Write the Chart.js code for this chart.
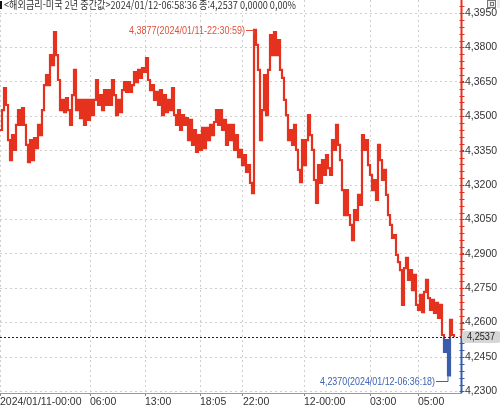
<!DOCTYPE html>
<html lang="ko">
<head>
<meta charset="UTF-8">
<title>해외금리-미국 2년 중간값</title>
<script src="https://cdn.jsdelivr.net/npm/chart.js"></script>
<style>
    html, body { margin: 0; padding: 0; background: #fff; }
    #wrap { width: 500px; height: 409px; }
</style>
</head>
<body>
<div id="wrap"><canvas id="chart" width="500" height="409"></canvas></div>
<script>
    // 체결가 (화면에서 읽은 근사값, 일정 간격)
    const prices = [
        4.3440, 4.3527, 4.3623, 4.3549, 4.3396, 4.3309, 4.3418, 4.3353, 4.3462, 4.3527,
        4.3462, 4.3536, 4.3462, 4.3375, 4.3300, 4.3396, 4.3309, 4.3405, 4.3361, 4.3462,
        4.3418, 4.3527, 4.3636, 4.3680, 4.3636, 4.3767, 4.3723, 4.3867, 4.3767, 4.3658,
        4.3527, 4.3571, 4.3518, 4.3579, 4.3527, 4.3462, 4.3592, 4.3702, 4.3527, 4.3571,
        4.3492, 4.3571, 4.3462, 4.3571, 4.3484, 4.3571, 4.3505, 4.3571, 4.3658, 4.3549,
        4.3592, 4.3527, 4.3614, 4.3549, 4.3614, 4.3549, 4.3658, 4.3592, 4.3505, 4.3571,
        4.3518, 4.3614, 4.3649, 4.3606, 4.3649, 4.3606, 4.3636, 4.3693, 4.3649, 4.3702,
        4.3667, 4.3710, 4.3693, 4.3754, 4.3658, 4.3614, 4.3636, 4.3571, 4.3606, 4.3549,
        4.3614, 4.3505, 4.3592, 4.3518, 4.3571, 4.3527, 4.3623, 4.3505, 4.3462, 4.3527,
        4.3440, 4.3505, 4.3462, 4.3492, 4.3396, 4.3484, 4.3375, 4.3440, 4.3344, 4.3418,
        4.3353, 4.3449, 4.3361, 4.3449, 4.3396, 4.3462, 4.3418, 4.3475, 4.3527, 4.3462,
        4.3527, 4.3440, 4.3484, 4.3375, 4.3462, 4.3396, 4.3462, 4.3353, 4.3418, 4.3322,
        4.3353, 4.3287, 4.3331, 4.3257, 4.3287, 4.3209, 4.3165, 4.3877, 4.3811, 4.3702,
        4.3396, 4.3527, 4.3680, 4.3505, 4.3702, 4.3854, 4.3767, 4.3867, 4.3767, 4.3832,
        4.3702, 4.3667, 4.3571, 4.3505, 4.3396, 4.3440, 4.3375, 4.3462, 4.3353, 4.3266,
        4.3213, 4.3396, 4.3287, 4.3396, 4.3505, 4.3418, 4.3353, 4.3222, 4.3122, 4.3287,
        4.3209, 4.3309, 4.3244, 4.3331, 4.3274, 4.3244, 4.3396, 4.3353, 4.3462, 4.3375,
        4.3309, 4.3178, 4.3069, 4.3178, 4.3069, 4.3026, 4.2960, 4.3091, 4.3048, 4.3157,
        4.3113, 4.3418, 4.3353, 4.3396, 4.3287, 4.3244, 4.3178, 4.3222, 4.3135, 4.3375,
        4.3309, 4.3222, 4.3266, 4.3157, 4.3069, 4.3026, 4.2969, 4.2982, 4.2895, 4.2864,
        4.2829, 4.2677, 4.2838, 4.2882, 4.2786, 4.2829, 4.2742, 4.2808, 4.2677, 4.2655,
        4.2721, 4.2646, 4.2734, 4.2786, 4.2707, 4.2655, 4.2699, 4.2642, 4.2686, 4.2620,
        4.2677, 4.2546, 4.2472, 4.2524, 4.2370, 4.2612, 4.2546, 4.2537
    ];
    const lastPrice = 4.2537;
    const maxNote = '4,3877(2024/01/11-22:30:59)';
    const minNote = '4,2370(2024/01/12-06:36:18)';
    const titleText = '<해외금리-미국 2년 중간값>2024/01/12-06:58:36 종:4,2537 0,0000 0,00%';

    // x축 눈금 (데이터 순번 기준)
    const xTickIdx = [0, 45, 72.5, 100, 121.5, 152, 185, 209];
    const xTickLabels = ['2024/01/11-00:00', '06:00', '13:00', '18:05', '22:00', '12-00:00', '03:00', '05:00'];
    const yTickValues = [4.2300, 4.2450, 4.2600, 4.2750, 4.2900, 4.3050, 4.3200, 4.3350, 4.3500, 4.3650, 4.3800, 4.3950];

    const red = '#e5321f';
    const blue = '#3a5dab';
    const tickFont = { family: '"Liberation Sans Narrow", "Liberation Sans", sans-serif', size: 10.5 };
    const fmt = v => v.toFixed(4).replace('.', ',');

    function lineColor(context) {
        const chart = context.chart;
        const a = chart.chartArea;
        if (!a) return red;
        const f = (chart.scales.y.getPixelForValue(lastPrice) - a.top) / (a.bottom - a.top);
        const g = chart.ctx.createLinearGradient(0, a.top, 0, a.bottom);
        g.addColorStop(0, red);
        g.addColorStop(f, red);
        g.addColorStop(f, blue);
        g.addColorStop(1, blue);
        return g;
    }

    const decor = {
        id: 'decor',
        beforeDraw(chart) {
            const ctx = chart.ctx;
            ctx.save();
            ctx.fillStyle = '#fff';
            ctx.fillRect(0, 0, chart.width, chart.height);
            ctx.restore();
        },
        afterDatasetsDraw(chart) {
            const { ctx, chartArea: a, scales: { x, y } } = chart;
            const ly = Math.round(y.getPixelForValue(lastPrice)) + 0.5;
            ctx.save();
            // 현재가 점선
            ctx.strokeStyle = '#222';
            ctx.lineWidth = 1;
            ctx.setLineDash([2, 2]);
            ctx.beginPath();
            ctx.moveTo(a.left, ly);
            ctx.lineTo(a.right, ly);
            ctx.stroke();
            ctx.setLineDash([]);

            // 최고/최저 표시
            const hi = prices.indexOf(Math.max(...prices));
            const lo = prices.indexOf(Math.min(...prices));
            ctx.font = '11px "Liberation Sans Narrow", "Liberation Sans", sans-serif';
            ctx.textBaseline = 'middle';
            ctx.textAlign = 'right';

            let px = x.getPixelForValue(hi), py = y.getPixelForValue(prices[hi]);
            let ty = Math.round(py) + 0.5;
            ctx.strokeStyle = '#e0503a';
            ctx.fillStyle = '#e0503a';
            ctx.beginPath();
            ctx.moveTo(px - 8, ty);
            ctx.lineTo(px, ty);
            ctx.lineTo(px, ty + 4);
            ctx.stroke();
            ctx.fillText(maxNote, px - 9, ty, 116);

            px = x.getPixelForValue(lo); py = y.getPixelForValue(prices[lo]);
            ty = Math.round(py + 6) + 0.5;
            ctx.strokeStyle = '#3d63b2';
            ctx.fillStyle = '#3d63b2';
            ctx.beginPath();
            ctx.moveTo(px - 12, ty);
            ctx.lineTo(px, ty);
            ctx.lineTo(px, ty - 5);
            ctx.stroke();
            ctx.fillText(minNote, px - 13, ty, 115);
            ctx.restore();
        },
        afterDraw(chart) {
            const { ctx, chartArea: a, scales: { y } } = chart;
            const ly = y.getPixelForValue(lastPrice);
            const ax = a.right + 0.5;
            ctx.save();
            // 오른쪽 축선 (현재가 위: 빨강, 아래: 파랑)
            ctx.lineWidth = 2;
            ctx.strokeStyle = red;
            ctx.beginPath(); ctx.moveTo(ax, 0); ctx.lineTo(ax, ly); ctx.stroke();
            ctx.strokeStyle = blue;
            ctx.beginPath(); ctx.moveTo(ax, ly); ctx.lineTo(ax, a.bottom); ctx.stroke();
            // 보조 눈금
            ctx.lineWidth = 1;
            for (let v = 4.2300; v < y.max; v += 0.003) {
                const p = Math.round(y.getPixelForValue(v)) + 0.5;
                ctx.strokeStyle = v >= lastPrice ? red : blue;
                ctx.beginPath(); ctx.moveTo(ax - 2, p); ctx.lineTo(ax + 3, p); ctx.stroke();
            }
            // 현재가 라벨
            ctx.fillStyle = '#d6d6d6';
            ctx.beginPath();
            ctx.roundRect(a.right + 1, ly - 6, chart.width - a.right, 12, 4);
            ctx.fill();
            ctx.fillStyle = '#222';
            ctx.font = '10.5px "Liberation Sans Narrow", "Liberation Sans", sans-serif';
            ctx.textBaseline = 'middle';
            ctx.textAlign = 'left';
            ctx.fillText(fmt(lastPrice), a.right + 6, ly, 28);

            // 제목
            ctx.fillStyle = '#fff';
            ctx.fillRect(0, 0, 300, 11);
            ctx.fillStyle = '#111';
            ctx.fillRect(0, 1, 2, 8);
            ctx.fillStyle = '#333';
            ctx.font = '11px "Noto Sans CJK KR", sans-serif';
            ctx.fillText(titleText, 4, 5, 292);

            // 창 버튼
            ctx.fillStyle = '#eee';
            ctx.fillRect(487, 0, 9, 8);
            ctx.strokeStyle = '#777';
            ctx.strokeRect(487.5, 0.5, 8, 7);
            ctx.strokeRect(490.5, 2.5, 3, 3);
            ctx.fillRect(497, 0, 3, 8);
            ctx.restore();
        }
    };

    const ctx = document.getElementById('chart').getContext('2d');
    new Chart(ctx, {
        type: 'line',
        data: {
            datasets: [{
                data: prices.map((v, i) => ({ x: i, y: v })),
                borderColor: lineColor,
                borderWidth: 2.2,
                pointRadius: 0,
                stepped: true
            }]
        },
        options: {
            responsive: false,
            animation: false,
            layout: { padding: 0 },
            plugins: { legend: { display: false }, tooltip: { enabled: false } },
            scales: {
                x: {
                    type: 'linear',
                    min: 0,
                    max: 230.5,
                    afterBuildTicks: s => { s.ticks = xTickIdx.map(v => ({ value: v })); },
                    afterFit: s => { s.height = 16; s.paddingLeft = 0; s.paddingRight = 0; },
                    ticks: {
                        callback: (v, i) => xTickLabels[i],
                        align: 'start',
                        autoSkip: false,
                        maxRotation: 0,
                        padding: 0,
                        font: tickFont,
                        color: '#333'
                    },
                    grid: { color: '#cfcfcf', tickColor: '#888', tickLength: 3 },
                    border: { display: true, color: '#999', dash: [2, 3] }
                },
                y: {
                    position: 'right',
                    min: 4.2293,
                    max: 4.4007,
                    afterBuildTicks: s => { s.ticks = yTickValues.map(v => ({ value: v })); },
                    afterFit: s => { s.width = 39; s.paddingTop = 0; s.paddingBottom = 0; },
                    ticks: {
                        callback: v => fmt(v),
                        padding: 1,
                        font: tickFont,
                        color: '#333'
                    },
                    grid: { color: '#cfcfcf', tickColor: '#555', tickLength: 3 },
                    border: { display: false, dash: [2, 3] }
                }
            }
        },
        plugins: [decor]
    });
</script>
</body>
</html>
